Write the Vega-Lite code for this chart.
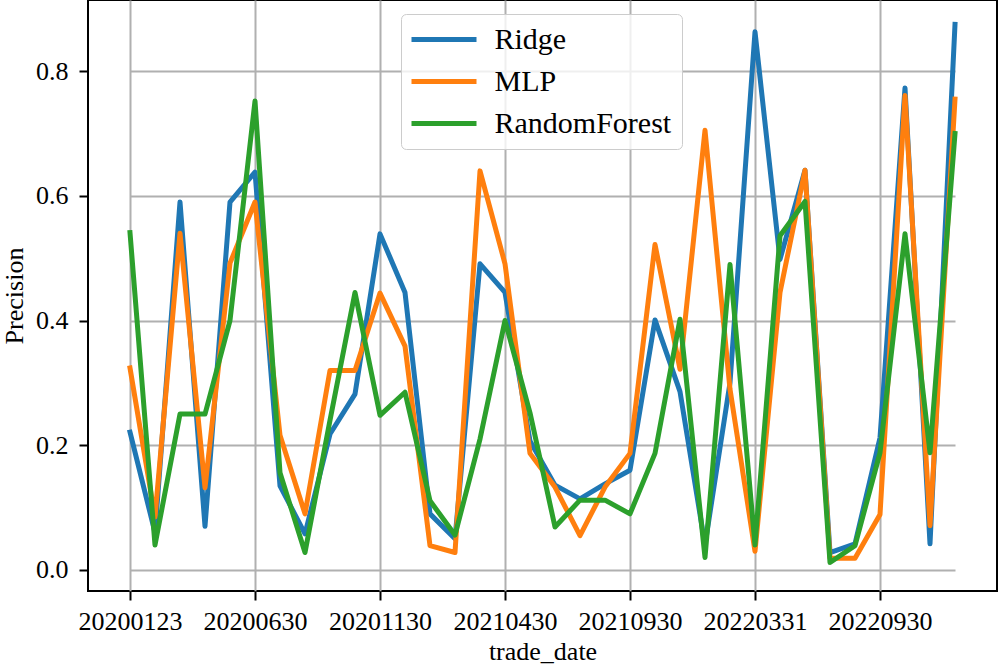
{
  "$schema": "https://vega.github.io/schema/vega-lite/v6.json",
  "width": 909,
  "height": 591,
  "autosize": {"type": "none"},
  "padding": {"left": 88, "top": 0, "right": 1, "bottom": 79},
  "background": "white",
  "config": {
    "font": "Liberation Serif",
    "view": {"stroke": "black", "strokeWidth": 2},
    "axis": {
      "domain": false,
      "grid": true,
      "gridColor": "#b0b0b0",
      "gridWidth": 2,
      "tickColor": "black",
      "tickWidth": 2,
      "tickSize": 9,
      "labelFont": "Liberation Serif",
      "labelFontSize": 26,
      "labelColor": "black",
      "titleFont": "Liberation Serif",
      "titleFontSize": 26,
      "titleFontWeight": "normal",
      "titleColor": "black"
    }
  },
  "data": {
    "values": [
      {"trade_date": "20200123", "Ridge": 0.221, "MLP": 0.324, "RandomForest": 0.541},
      {"trade_date": "20200224", "Ridge": 0.06, "MLP": 0.085, "RandomForest": 0.04},
      {"trade_date": "20200331", "Ridge": 0.59, "MLP": 0.54, "RandomForest": 0.25},
      {"trade_date": "20200430", "Ridge": 0.07, "MLP": 0.132, "RandomForest": 0.25},
      {"trade_date": "20200529", "Ridge": 0.59, "MLP": 0.492, "RandomForest": 0.4},
      {"trade_date": "20200630", "Ridge": 0.638, "MLP": 0.59, "RandomForest": 0.752},
      {"trade_date": "20200731", "Ridge": 0.135, "MLP": 0.216, "RandomForest": 0.156},
      {"trade_date": "20200831", "Ridge": 0.058, "MLP": 0.09, "RandomForest": 0.028},
      {"trade_date": "20200930", "Ridge": 0.218, "MLP": 0.32, "RandomForest": 0.24},
      {"trade_date": "20201030", "Ridge": 0.282, "MLP": 0.32, "RandomForest": 0.445},
      {"trade_date": "20201130", "Ridge": 0.539, "MLP": 0.444, "RandomForest": 0.248},
      {"trade_date": "20201231", "Ridge": 0.445, "MLP": 0.359, "RandomForest": 0.285},
      {"trade_date": "20210129", "Ridge": 0.09, "MLP": 0.039, "RandomForest": 0.111},
      {"trade_date": "20210226", "Ridge": 0.05, "MLP": 0.028, "RandomForest": 0.056},
      {"trade_date": "20210331", "Ridge": 0.491, "MLP": 0.64, "RandomForest": 0.21},
      {"trade_date": "20210430", "Ridge": 0.445, "MLP": 0.491, "RandomForest": 0.4},
      {"trade_date": "20210531", "Ridge": 0.207, "MLP": 0.187, "RandomForest": 0.252},
      {"trade_date": "20210630", "Ridge": 0.136, "MLP": 0.133, "RandomForest": 0.069},
      {"trade_date": "20210730", "Ridge": 0.114, "MLP": 0.055, "RandomForest": 0.112},
      {"trade_date": "20210831", "Ridge": 0.138, "MLP": 0.133, "RandomForest": 0.112},
      {"trade_date": "20210930", "Ridge": 0.16, "MLP": 0.187, "RandomForest": 0.09},
      {"trade_date": "20211029", "Ridge": 0.401, "MLP": 0.522, "RandomForest": 0.187},
      {"trade_date": "20211130", "Ridge": 0.286, "MLP": 0.322, "RandomForest": 0.402},
      {"trade_date": "20211231", "Ridge": 0.04, "MLP": 0.705, "RandomForest": 0.02},
      {"trade_date": "20220228", "Ridge": 0.3, "MLP": 0.29, "RandomForest": 0.49},
      {"trade_date": "20220331", "Ridge": 0.863, "MLP": 0.03, "RandomForest": 0.04},
      {"trade_date": "20220429", "Ridge": 0.498, "MLP": 0.445, "RandomForest": 0.536},
      {"trade_date": "20220531", "Ridge": 0.641, "MLP": 0.641, "RandomForest": 0.591},
      {"trade_date": "20220630", "Ridge": 0.028, "MLP": 0.019, "RandomForest": 0.012},
      {"trade_date": "20220831", "Ridge": 0.042, "MLP": 0.019, "RandomForest": 0.039},
      {"trade_date": "20220930", "Ridge": 0.212, "MLP": 0.089, "RandomForest": 0.188},
      {"trade_date": "20221031", "Ridge": 0.773, "MLP": 0.761, "RandomForest": 0.539},
      {"trade_date": "20221130", "Ridge": 0.042, "MLP": 0.071, "RandomForest": 0.188},
      {"trade_date": "20221230", "Ridge": 0.875, "MLP": 0.755, "RandomForest": 0.7}
    ]
  },
  "transform": [
    {"fold": ["Ridge", "MLP", "RandomForest"], "as": ["model", "precision"]}
  ],
  "mark": {"type": "line", "strokeWidth": 5, "strokeJoin": "round", "strokeCap": "square", "clip": true},
  "encoding": {
    "x": {
      "field": "trade_date",
      "type": "ordinal",
      "sort": null,
      "scale": {"type": "point", "padding": 0, "range": [42, 867]},
      "axis": {
        "values": ["20200123", "20200630", "20201130", "20210430", "20210930", "20220331", "20220930"],
        "labelAngle": 0,
        "labelOverlap": false,
        "labelFlush": false,
        "labelPadding": 29.5,
        "labelBaseline": "alphabetic",
        "title": "trade_date",
        "titleY": 68,
        "titleBaseline": "alphabetic"
      }
    },
    "y": {
      "field": "precision",
      "type": "quantitative",
      "scale": {"domain": [-0.0337, 0.914], "nice": false, "zero": false},
      "axis": {
        "values": [0, 0.2, 0.4, 0.6, 0.8],
        "format": ".1f",
        "labelPadding": 11,
        "labelFlush": false,
        "title": "Precision",
        "titleX": -66,
        "titleBaseline": "alphabetic"
      }
    },
    "color": {
      "field": "model",
      "type": "nominal",
      "scale": {"domain": ["Ridge", "MLP", "RandomForest"], "range": ["#1f77b4", "#ff7f0e", "#2ca02c"]},
      "legend": {
        "title": null,
        "orient": "none",
        "legendX": 313,
        "legendY": 14,
        "direction": "vertical",
        "labelFont": "Liberation Serif",
        "labelFontSize": 30,
        "labelColor": "black",
        "labelLimit": 0,
        "symbolType": "M-2.5,0H2.5",
        "symbolSize": 676,
        "symbolStrokeWidth": 5,
        "symbolOffset": 17.5,
        "labelOffset": 35,
        "padding": 10,
        "rowPadding": 11,
        "strokeColor": "#cccccc",
        "fillColor": "rgba(255,255,255,0.8)",
        "cornerRadius": 5
      }
    }
  }
}
